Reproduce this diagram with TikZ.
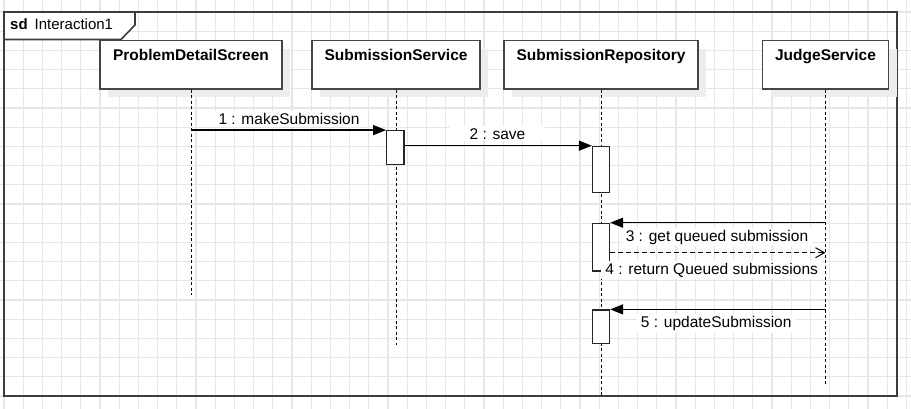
\documentclass[tikz,border=0pt]{standalone}
\usepackage{fontspec}
\setmainfont{Liberation Sans}
\usetikzlibrary{arrows.meta,shadows}
\definecolor{gridgray}{HTML}{E6E6E6}
\definecolor{shadowgray}{HTML}{EDEDED}
\definecolor{framegray}{HTML}{3C3C3C}
\definecolor{boxgray}{HTML}{454545}
\begin{document}
\begin{tikzpicture}[x=1pt,y=-1pt,
  gridline/.style={draw=gridgray, line width=1.1pt},
  framestyle/.style={draw=framegray, line width=1.6pt},
  lbox/.style={draw=boxgray, fill=white, line width=1.4pt, rectangle, minimum height=48.3pt, inner sep=0pt,
    drop shadow={shadow xshift=8pt, shadow yshift=-8pt, fill=shadowgray, opacity=1}},
  titletext/.style={font=\fontsize{15.5pt}{18pt}\selectfont\bfseries, inner sep=0pt},
  act/.style={draw=black!85, fill=white, line width=1.2pt, rectangle, minimum width=17pt, inner sep=0pt},
  lifeline/.style={draw=black, line width=1pt, dash pattern=on 3pt off 2.5pt},
  msg/.style={draw=black, line width=1.2pt, -{Triangle[length=13pt,width=10pt]}},
  ret/.style={draw=black, line width=1pt, dash pattern=on 5pt off 3pt, -{Straight Barb[length=9pt,width=10pt,line width=1pt]}},
  lbl/.style={fill=white, font=\fontsize{15.5pt}{18pt}\selectfont, inner xsep=4pt, inner ysep=2pt}
]
\useasboundingbox (0,0) rectangle (911,409);
% grid
\foreach \k in {0,...,47} \draw[gridline] ({4+19.2*\k},0) -- ({4+19.2*\k},409);
\foreach \k in {0,...,20} \draw[gridline] (0,{12+19.2*\k}) -- (911,{12+19.2*\k});
% frame
\draw[framestyle] (4,12) rectangle (897,396);
\filldraw[framestyle, fill=white] (4,12) -- (135,12) -- (135,25) -- (121,39.5) -- (4,39.5) -- cycle;
\node[anchor=base west, inner sep=0pt, font=\fontsize{15pt}{18pt}\selectfont] (sdlabel) at (10,29.5) {\textbf{sd}\hspace{7pt}Interaction1};
% lifeline heads
\node[lbox, minimum width=182pt] (pds) at (191,64.85) {};
\node[lbox, minimum width=168pt] (ss) at (396,64.85) {};
\node[lbox, minimum width=194pt] (sr) at (601,64.85) {};
\node[lbox, minimum width=126pt] (js) at (825.5,64.85) {};
\node[titletext, anchor=base] (pdsT) at ([yshift=-21pt]pds.north) {ProblemDetailScreen};
\node[titletext, anchor=base] (ssT) at ([yshift=-21pt]ss.north) {SubmissionService};
\node[titletext, anchor=base] (srT) at ([yshift=-21pt]sr.north) {SubmissionRepository};
\node[titletext, anchor=base] (jsT) at ([yshift=-21pt]js.north) {JudgeService};
% lifelines
\coordinate (pdsE) at (191,295);
\coordinate (ssE) at (396,345);
\coordinate (srE) at (601,396);
\coordinate (jsE) at (825.5,385);
\draw[lifeline] (pds.south) -- (pdsE);
\draw[lifeline] (ss.south) -- (ssE);
\draw[lifeline] (sr.south) -- (srE);
\draw[lifeline] (js.south) -- (jsE);
% activations
\node[act, minimum width=17.3pt, minimum height=33.6pt] (a1) at (395.4,147.5) {};
\node[act, minimum height=46pt] (a2) at (601,169.3) {};
\node[act, minimum height=47.7pt] (a3) at (601,247.15) {};
\node[act, minimum height=33.3pt] (a4) at (601,326.65) {};
% messages
\coordinate (r4) at (0,252.7);
\draw[msg] (pds.south |- a1.north west) -- (a1.north west);
\draw[msg] (a1.east |- a2.north west) -- (a2.north west);
\draw[msg] (jsE |- a3.north east) -- (a3.north east);
\draw[ret] (a3.east |- r4) -- (jsE |- r4);
\draw[msg] (jsE |- a4.north east) -- (a4.north east);
% labels
\node[lbl, anchor=base] (l1) at (289,124.5) {1 : makeSubmission};
\node[lbl, anchor=base, minimum width=95pt] (l2) at (497.5,139.3) {2 : save};
\node[lbl, anchor=base] (l3) at (717,241) {3 : get queued submission};
\node[lbl, anchor=base] (l4) at (711.7,274.3) {4 : return Queued submissions};
\node[lbl, anchor=base] (l5) at (716.2,327.3) {5 : updateSubmission};
\end{tikzpicture}
\end{document}
